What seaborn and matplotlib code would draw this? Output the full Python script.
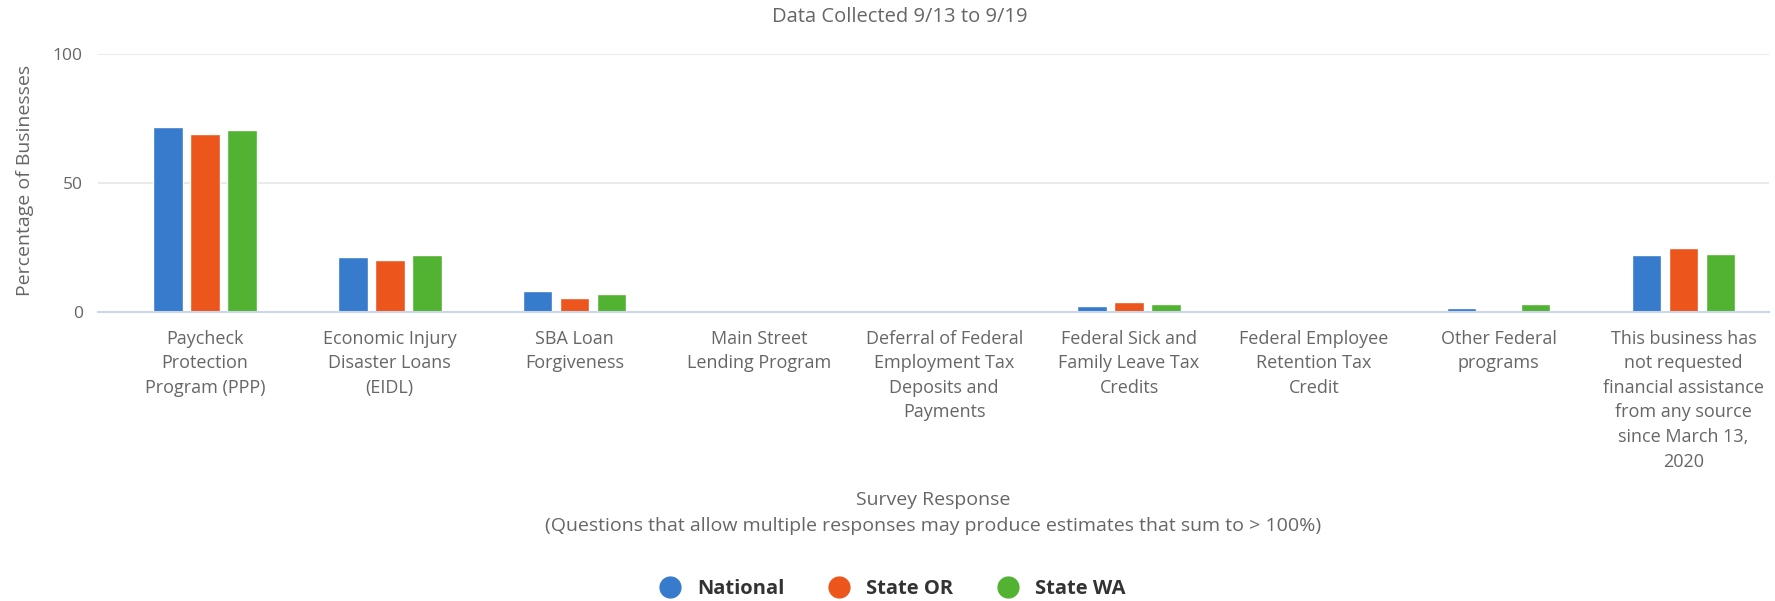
import matplotlib
matplotlib.use("Agg")
import matplotlib.pyplot as plt
from matplotlib.lines import Line2D
import seaborn as sns
import pandas as pd

categories = [
    "Paycheck\nProtection\nProgram (PPP)",
    "Economic Injury\nDisaster Loans\n(EIDL)",
    "SBA Loan\nForgiveness",
    "Main Street\nLending Program",
    "Deferral of Federal\nEmployment Tax\nDeposits and\nPayments",
    "Federal Sick and\nFamily Leave Tax\nCredits",
    "Federal Employee\nRetention Tax\nCredit",
    "Other Federal\nprograms",
    "This business has\nnot requested\nfinancial assistance\nfrom any source\nsince March 13,\n2020",
]
series_names = ["National", "State OR", "State WA"]
national = [71.9, 21.3, 8.1, 0.0, 0.2, 2.3, 0.2, 1.5, 22.0]
state_or = [69.1, 20.0, 5.2, 0.0, 0.0, 3.6, 0.0, 0.0, 24.8]
state_wa = [70.5, 22.1, 6.7, 0.0, 0.0, 3.0, 0.0, 2.9, 22.6]
colors = ["#377BCC", "#EC561C", "#52B231"]
yticks = [0, 50, 100]

title = "Data Collected 9/13 to 9/19"
ylabel = "Percentage of Businesses"
xlabel = "Survey Response\n(Questions that allow multiple responses may produce estimates that sum to > 100%)"

sns.set_theme(style="white")
plt.rcParams["font.family"] = ["Open Sans", "DejaVu Sans"]

rows = []
for name, vals in zip(series_names, [national, state_or, state_wa]):
    for c, v in zip(categories, vals):
        rows.append({"category": c, "series": name, "value": v})
df = pd.DataFrame(rows)

W, H = 1775, 601
fig = plt.figure(figsize=(W / 100, H / 100), dpi=100)
ax = fig.add_axes([98 / W, 1 - 311.7 / H, (1769 - 98) / W, 257.4 / H])

sns.barplot(data=df, x="category", y="value", hue="series", order=categories,
            hue_order=series_names, palette=colors, width=0.6, gap=0.2,
            linewidth=1, edgecolor="white", saturation=1, legend=False, ax=ax, zorder=3)

ax.set_xlim(-0.579, 8.463)
ax.set_ylim(0, 100)
ax.set_yticks(yticks)
ax.set_yticklabels([str(t) for t in yticks])
ax.yaxis.grid(True, color="#e6e6e6", linewidth=1.2, zorder=0)
ax.xaxis.grid(False)
for s in ["top", "right", "left"]:
    ax.spines[s].set_visible(False)
ax.spines["bottom"].set_color("#ccd6eb")
ax.spines["bottom"].set_linewidth(1.5)
ax.spines["bottom"].set_zorder(4)
ax.tick_params(axis="y", length=0, pad=11, labelsize=12.5, labelcolor="#666666")
ax.tick_params(axis="x", length=0, pad=13, labelsize=13, labelcolor="#666666")
for lab in ax.get_xticklabels():
    lab.set_linespacing(1.47)
ax.set_xlabel("")
ax.set_ylabel("")

fig.text(25 / W, 1 - 180 / H, ylabel, rotation=90, ha="center", va="center",
         fontsize=14, color="#666666")
fig.text(900 / W, 1 - 17 / H, title, ha="center", va="center", fontsize=14.5, color="#666666")
fig.text((98 + 1769) / 2 / W, 1 - 513 / H, xlabel, ha="center", va="center",
         fontsize=14, color="#666666", linespacing=1.55)

handles = [Line2D([], [], marker="o", linestyle="", markersize=15, markerfacecolor=c,
                  markeredgecolor=c) for c in colors]
leg = fig.legend(handles, series_names, loc="center", bbox_to_anchor=(0.5, 1 - 589 / H),
                 ncol=3, frameon=False, handletextpad=0.35, columnspacing=1.7,
                 prop={"weight": "bold", "size": 14.5})
for t in leg.get_texts():
    t.set_color("#333333")

fig.savefig("out.png", dpi=100)
